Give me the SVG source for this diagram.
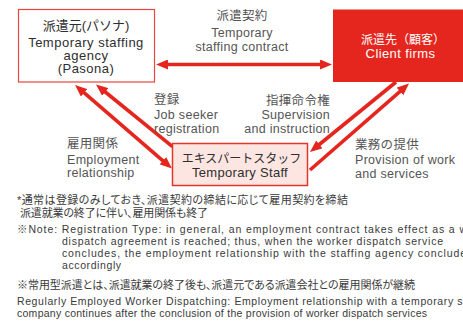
<svg xmlns="http://www.w3.org/2000/svg" width="463" height="323" viewBox="0 0 463 323">
<style>
text{font-family:"Liberation Sans","Noto Sans CJK JP",sans-serif}
.nt{font-size:13px;fill:#2e2e2e;text-anchor:middle}
.lb{font-size:12.5px;fill:#555;letter-spacing:0.3px}
.fn{font-size:10.5px;fill:#3a3a3a}
.jp{font-size:11px;fill:#3a3a3a;font-feature-settings:"palt"}
.ar{stroke:#e5261e;stroke-width:3.6;fill:none}
</style>
<defs>
<marker id="ah" viewBox="0 0 12 10" refX="4" refY="5" markerWidth="12" markerHeight="10" markerUnits="userSpaceOnUse" orient="auto-start-reverse">
<path d="M0,0 L12,5 L0,10 z" fill="#e5261e"/>
</marker>
</defs>
<g id="connectors">
<line class="ar" x1="164" y1="64.5" x2="324" y2="64.5" marker-start="url(#ah)" marker-end="url(#ah)"/>
<line class="ar" x1="81.1" y1="90.2" x2="165.9" y2="163.3" marker-start="url(#ah)" marker-end="url(#ah)"/>
<line class="ar" x1="102.2" y1="89.5" x2="172.5" y2="146.6" marker-start="url(#ah)"/>
<line class="ar" x1="396" y1="82" x2="316.2" y2="147" marker-end="url(#ah)"/>
<line class="ar" x1="310" y1="170" x2="403" y2="88.8" marker-end="url(#ah)"/>
</g>
<g id="agency">
<rect x="18.5" y="9.5" width="136" height="72.5" fill="#fff" stroke="#e8453c" stroke-width="1.2"/>
<text class="nt" x="86" y="29.5">派遣元(パソナ)</text>
<text class="nt" x="86" y="46.5" style="letter-spacing:0.5px">Temporary staffing</text>
<text class="nt" x="86" y="59.5" style="letter-spacing:0.5px">agency</text>
<text class="nt" x="86" y="72.5" style="letter-spacing:0.5px">(Pasona)</text>
</g>
<g id="client">
<rect x="333" y="9.5" width="135" height="72.5" fill="#e5261e"/>
<text class="nt" x="403" y="44" style="fill:#fff;font-size:12px">派遣先（顧客）</text>
<text class="nt" x="400.5" y="58" style="fill:#fff;letter-spacing:0.4px">Client firms</text>
</g>
<g id="staff">
<rect x="172.5" y="143.5" width="135" height="42" fill="#fde6e1" stroke="#e5352b" stroke-width="1.5"/>
<text class="nt" x="241.5" y="162.5" style="font-size:12px">エキスパートスタッフ</text>
<text class="nt" x="240" y="177" style="letter-spacing:0.3px">Temporary Staff</text>
</g>
<g id="labels">
<text class="lb" x="242" y="20" text-anchor="middle">派遣契約</text>
<text class="lb" x="242" y="37" text-anchor="middle">Temporary</text>
<text class="lb" x="242" y="50.5" text-anchor="middle">staffing contract</text>
<text class="lb" x="154" y="104">登録</text>
<text class="lb" x="154" y="119">Job seeker</text>
<text class="lb" x="154" y="133">registration</text>
<text class="lb" x="67" y="148">雇用関係</text>
<text class="lb" x="67" y="163.5">Employment</text>
<text class="lb" x="67" y="177">relationship</text>
<text class="lb" x="330" y="105" text-anchor="end">指揮命令権</text>
<text class="lb" x="330" y="119" text-anchor="end">Supervision</text>
<text class="lb" x="330" y="133" text-anchor="end">and instruction</text>
<text class="lb" x="355" y="149">業務の提供</text>
<text class="lb" x="355" y="164">Provision of work</text>
<text class="lb" x="355" y="177.5">and services</text>
</g>
<g id="notes">
<text class="jp" x="17" y="204" textLength="331" lengthAdjust="spacing">*通常は登録のみしておき、派遣契約の締結に応じて雇用契約を締結</text>
<text class="jp" x="20" y="216.5" textLength="188" lengthAdjust="spacing">派遣就業の終了に伴い、雇用関係も終了</text>
<text class="fn" x="17" y="233" textLength="450" lengthAdjust="spacing">※Note: Registration Type: in general, an employment contract takes effect as a w</text>
<text class="fn" x="62" y="245" textLength="381" lengthAdjust="spacing">dispatch agreement is reached; thus, when the worker dispatch service</text>
<text class="fn" x="62" y="257" textLength="404" lengthAdjust="spacing">concludes, the employment relationship with the staffing agency conclude</text>
<text class="fn" x="62" y="269" style="letter-spacing:0.6px">accordingly</text>
<text class="jp" x="17" y="289" textLength="398" lengthAdjust="spacing">※常用型派遣とは、派遣就業の終了後も、派遣元である派遣会社との雇用関係が継続</text>
<text class="fn" x="17" y="305" textLength="449" lengthAdjust="spacing">Regularly Employed Worker Dispatching: Employment relationship with a temporary st</text>
<text class="fn" x="17" y="316.5" textLength="410" lengthAdjust="spacing">company continues after the conclusion of the provision of worker dispatch services</text>
</g>
</svg>
